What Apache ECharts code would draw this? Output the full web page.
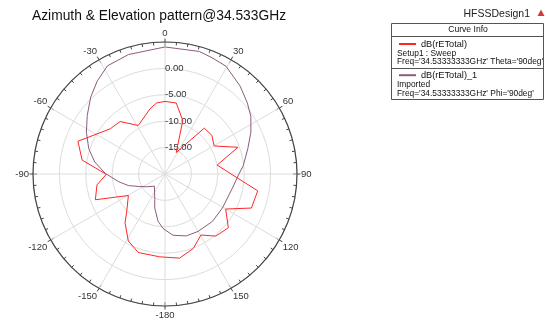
<!DOCTYPE html>
<html>
<head>
<meta charset="utf-8">
<script src="https://cdn.jsdelivr.net/npm/echarts@6/dist/echarts.min.js"></script>
<style>
  html, body { margin: 0; padding: 0; background: #ffffff; }
  #chart { width: 547px; height: 320px; }
</style>
</head>
<body>
<div id="chart"></div>
<script>
// Theta = 90deg cut, dB(rETotal), angles in degrees (-180..180)
const thetaCutAngles = [-176.4, -161.2, -151.3, -140.7, -134.3, -120.4, -110.3, -99.1, -90.3, -80.5,
  -69.4, -50.5, -40.5, -28.9, -13.1, -6.9, 0, 9.0, 18.4, 27.6,
  40.6, 50.5, 60.3, 69.9, 80.3, 100.3, 111.5, 120.0, 130.3, 140.7,
  149.5, 159.3, 170.2];
const thetaCutDb = [-4.28, -4.29, -5.54, -8.05, -9.88, -11.96, -5.94, -6.96, -8.88, -4.09,
  -2.38, -6.55, -6.92, -9.51, -7.36, -6.46, -6.25, -6.39, -9.33, -15.4,
  -8.56, -8.5, -9.28, -5.29, -9.98, -2.15, -2.41, -6.73, -4.26, -4.81,
  -6.58, -4.9, -3.83];

// Phi = 90deg cut, dB(rETotal)_1 (imported)
const phiCutAngles = [-177.9, -171.6, -163.2, -158.3, -139.0, -125.0, -116.6, -107.5, -99.3, -89.4,
  -80.3, -71.6, -62.0, -53.0, -44.0, -36.0, -28.0, -17.0, 0, 15.6,
  22.0, 29.5, 40.5, 49.0, 56.0, 64.0, 73.0, 84.0, 90.5, 102.0,
  120.6, 135.0, 150.0, 161.0, 172.6];
const phiCutDb = [-9.68, -10.97, -13.28, -14.76, -16.95, -15.8, -14.69, -12.72, -11.07, -8.69,
  -6.5, -4.78, -3.14, -1.56, 0.25, 1.8, 3.2, 3.66, 4.06, 4.1,
  3.76, 3.45, 1.9, 0.63, -0.39, -1.9, -3.6, -5.1, -6.05, -6.97,
  -7.36, -7.3, -7.45, -7.6, -8.3];

// radial scale (dB) and the ring values that carry a label
const radialMin = -20, radialMax = 5, radialStep = 5;
const radialLabelled = [-15, -10, -5, 0];

const seriesNames = ['dB(rETotal)', 'dB(rETotal)_1'];
const seriesColors = ['#ff2626', '#8c5a7e'];

// angle axis runs 0..360 with 0 at the top; shown as -180..180
const toAxisAngle = a => (a + 360) % 360;
function closedLoop(angles, values) {
  const pts = angles.map((a, i) => [values[i], toAxisAngle(a)]);
  pts.push(pts[0]);
  return pts;
}

const FONT = '"Liberation Sans", Arial, sans-serif';
const CENTER = [165, 174];
const RADIUS = 132;
const AXIS_COLOR = '#444';
const GRID_COLOR = '#dcdcdc';

const chart = echarts.init(document.getElementById('chart'), null, { renderer: 'canvas' });

chart.setOption({
  animation: false,
  backgroundColor: '#ffffff',
  textStyle: { fontFamily: FONT },
  title: [
    { text: 'Azimuth & Elevation pattern@34.533GHz', left: 27, top: 4,
      textStyle: { fontSize: 13.8, fontWeight: 'normal', color: '#111', fontFamily: FONT } },
    { text: 'HFSSDesign1', right: 12, top: 4,
      textStyle: { fontSize: 10.5, fontWeight: 'normal', color: '#222', fontFamily: FONT } }
  ],
  // polar 0 holds the data, grid and labels; polar 1 only adds the outer half of the 30° ticks
  polar: [
    { center: CENTER, radius: RADIUS },
    { center: CENTER, radius: RADIUS }
  ],
  angleAxis: [
    {
      polarIndex: 0, type: 'value', min: 0, max: 360, interval: 30,
      startAngle: 90, clockwise: true,
      axisLine: { show: true, lineStyle: { color: AXIS_COLOR, width: 1.2 } },
      axisTick: { show: true, inside: true, length: 4, lineStyle: { color: AXIS_COLOR } },
      minorTick: { show: true, splitNumber: 6, length: 3, lineStyle: { color: AXIS_COLOR } },
      splitLine: { show: true, lineStyle: { color: GRID_COLOR, width: 1 } },
      axisLabel: {
        margin: 4, fontSize: 9.5, color: '#333', fontFamily: FONT,
        formatter: v => (v === 360 ? '' : v === 180 ? '-180' : String(v > 180 ? v - 360 : v))
      }
    },
    {
      polarIndex: 1, type: 'value', min: 0, max: 360, interval: 30,
      startAngle: 90, clockwise: true,
      axisLine: { show: false },
      axisTick: { show: true, inside: false, length: 3.5, lineStyle: { color: AXIS_COLOR } },
      splitLine: { show: false },
      axisLabel: { show: false }
    }
  ],
  radiusAxis: [
    {
      polarIndex: 0, type: 'value', min: radialMin, max: radialMax, interval: radialStep,
      axisLine: { show: false }, axisTick: { show: false },
      splitLine: { show: true, lineStyle: { color: GRID_COLOR, width: 1 } },
      axisLabel: {
        margin: 0, align: 'left', fontSize: 9.5, color: '#333', fontFamily: FONT, padding: [0, 0, 12, 0],
        formatter: v => (radialLabelled.indexOf(v) >= 0 ? v.toFixed(2) : '')
      }
    },
    {
      polarIndex: 1, type: 'value', min: radialMin, max: radialMax, interval: radialStep,
      axisLine: { show: false }, axisTick: { show: false },
      splitLine: { show: false }, axisLabel: { show: false }
    }
  ],
  legend: {
    orient: 'vertical', left: 399, top: 39, padding: 0,
    itemWidth: 17, itemHeight: 2, itemGap: 21.2, icon: 'rect',
    textStyle: { fontSize: 9.2, color: '#111', lineHeight: 10, fontFamily: FONT },
    data: seriesNames
  },
  graphic: [
    { type: 'rect', shape: { x: 391.5, y: 23.5, width: 152, height: 76 },
      style: { fill: '#fff', stroke: '#555', lineWidth: 1 }, z: -1 },
    { type: 'line', shape: { x1: 391.5, y1: 36.5, x2: 543.5, y2: 36.5 }, style: { stroke: '#555', lineWidth: 1 } },
    { type: 'line', shape: { x1: 391.5, y1: 68.5, x2: 543.5, y2: 68.5 }, style: { stroke: '#555', lineWidth: 1 } },
    { type: 'text', x: 468, y: 30, style: { text: 'Curve Info', font: '8.6px ' + FONT, fill: '#111', align: 'center', verticalAlign: 'middle' } },
    { type: 'text', x: 397, y: 53.5, style: { text: 'Setup1 : Sweep', font: '8.4px ' + FONT, fill: '#111', verticalAlign: 'middle' } },
    { type: 'text', x: 397, y: 62, style: { text: "Freq='34.53333333GHz' Theta='90deg'", font: '8.4px ' + FONT, fill: '#111', verticalAlign: 'middle' } },
    { type: 'text', x: 397, y: 85, style: { text: 'Imported', font: '8.4px ' + FONT, fill: '#111', verticalAlign: 'middle' } },
    { type: 'text', x: 397, y: 93.3, style: { text: "Freq='34.53333333GHz' Phi='90deg'", font: '8.4px ' + FONT, fill: '#111', verticalAlign: 'middle' } },
    { type: 'polygon', shape: { points: [[541, 9.5], [537.5, 16], [544.5, 16]] },
      style: { fill: '#d33a3a' } }
  ],
  series: [
    {
      name: seriesNames[0], type: 'line', coordinateSystem: 'polar', polarIndex: 0,
      data: closedLoop(thetaCutAngles, thetaCutDb),
      showSymbol: false, symbol: 'none', color: seriesColors[0],
      lineStyle: { color: seriesColors[0], width: 1 }, z: 3
    },
    {
      name: seriesNames[1], type: 'line', coordinateSystem: 'polar', polarIndex: 0,
      data: closedLoop(phiCutAngles, phiCutDb),
      showSymbol: false, symbol: 'none', color: seriesColors[1],
      lineStyle: { color: seriesColors[1], width: 1 }, z: 2
    }
  ]
});
</script>
</body>
</html>
